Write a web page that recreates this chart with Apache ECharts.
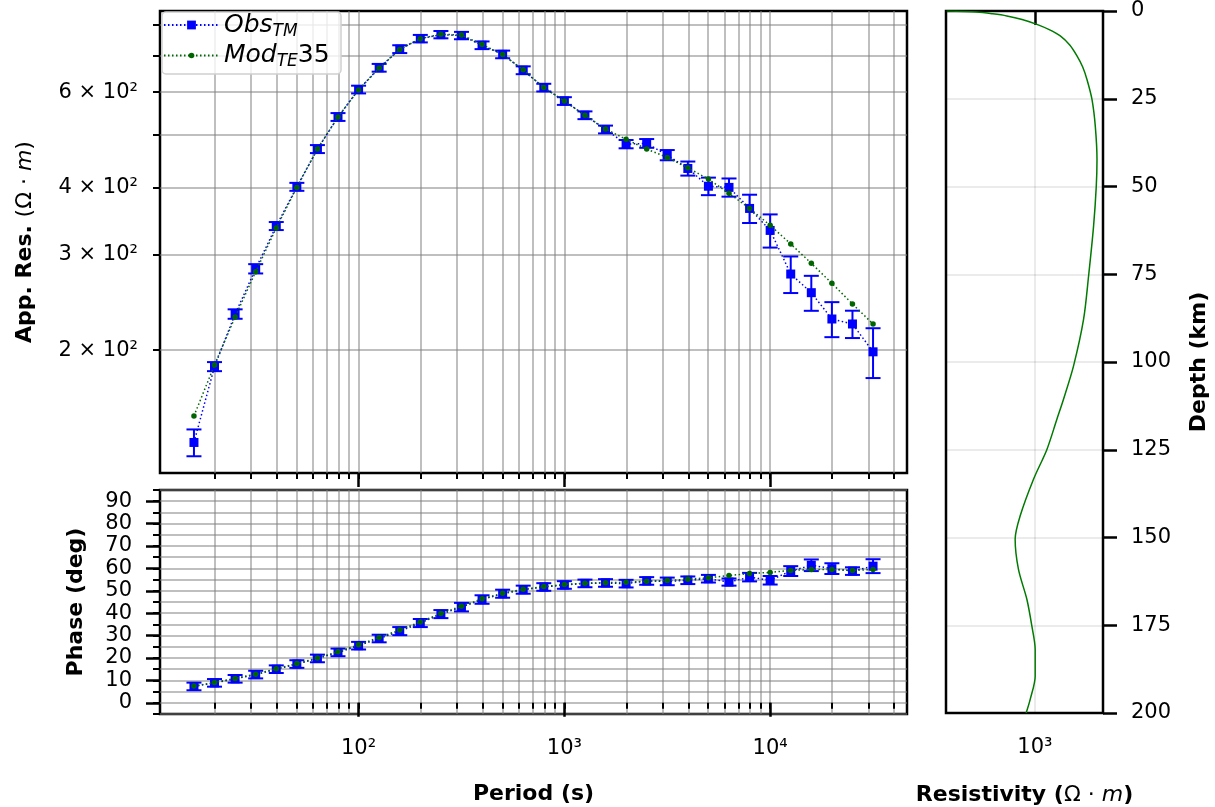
<!DOCTYPE html>
<html>
<head>
<meta charset="utf-8">
<script src="https://cdn.jsdelivr.net/npm/echarts@6/dist/echarts.min.js"></script>
<style>
  body { margin: 0; background: #fff; }
  #mt { width: 1215px; height: 807px; }
</style>
</head>
<body>
<div id="mt"></div>
<script>
// periods (s)
var period = [15.85, 19.95, 25.12, 31.62, 39.81, 50.12, 63.10, 79.43, 100, 125.9, 158.5, 199.5,
  251.2, 316.2, 398.1, 501.2, 631.0, 794.3, 1000, 1259, 1585, 1995, 2512, 3162, 3981, 5012,
  6310, 7943, 10000, 12589, 15849, 19953, 25119, 31623];
// apparent resistivity (ohm m)
var rhoObs = [134.9, 186.4, 233.2, 282.8, 339.3, 401, 471, 540, 607, 666, 721, 754, 767, 764,
  733, 705, 659, 612, 578, 544, 512, 481, 482.5, 459, 433.6, 402, 400, 365.7, 333, 276.5,
  255.4, 228.3, 223.5, 198.5];
var rhoErr = [7.7, 3.6, 4.7, 5.6, 5.8, 6.8, 8, 9, 10, 11, 12, 12, 12, 12, 12, 11.5, 11, 10,
  9.5, 9, 8.5, 8.5, 9, 10, 13, 15, 15.5, 22, 23.5, 21.5, 19, 17, 13, 21];
var rhoMod = [151, 187.7, 230.3, 279.3, 336.4, 400, 471, 540, 606, 665, 720, 754, 768, 766,
  735, 705, 660, 612, 578, 544, 513, 491, 471, 454.5, 434.7, 414.4, 390, 365.7, 340.3, 314.3,
  289.4, 265.8, 243.4, 223.5];
// phase (deg)
var phaObs = [7.3, 8.9, 10.7, 12.6, 15.0, 17.3, 19.8, 22.5, 25.5, 28.7, 32.0, 35.6, 39.6, 42.7,
  46.1, 48.7, 50.5, 51.7, 52.6, 53.3, 53.5, 53.2, 54.4, 54.2, 54.7, 55.4, 53.9, 56.1, 54.7,
  58.8, 61.4, 59.9, 58.8, 61.0];
var phaErr = [1.7, 1.7, 1.7, 1.7, 1.7, 1.7, 1.7, 1.7, 1.7, 1.7, 1.8, 1.8, 1.8, 1.9, 1.9, 1.8,
  1.8, 1.7, 1.7, 1.7, 1.7, 1.7, 1.7, 1.7, 1.7, 1.7, 1.6, 1.9, 1.9, 2.2, 2.6, 2.4, 1.7, 3.1];
var phaMod = [7.5, 9.1, 10.9, 12.8, 15.2, 17.5, 20.0, 22.8, 25.9, 29.2, 32.5, 36.1, 39.9, 43.1,
  46.4, 48.9, 50.7, 51.9, 52.8, 53.4, 53.6, 53.8, 54.3, 54.6, 55.2, 55.8, 56.8, 57.7, 58.2,
  59.1, 59.5, 59.5, 59.1, 59.5];
// 1D model: depth (km) vs resistivity (ohm m)
var depth = [0, 0.3, 0.8, 1.4, 2.4, 3.8, 5.3, 7.1, 9.7, 12.8, 15.9, 19.5, 25.2, 32.8, 42.3, 49.9,
  61.3, 75.5, 87.8, 101.1, 110.6, 116.3, 124.9, 133.4, 143.9, 150.5, 159.1, 167.6, 175.2, 181.9,
  189.5, 196.2, 200];
var resist = [254, 405, 520, 647, 820, 1032, 1250, 1484, 1720, 1924, 2100, 2248, 2430, 2558, 2627,
  2598, 2491, 2305, 2133, 1825, 1561, 1408, 1206, 979, 795, 736, 775, 883, 954, 1005, 1005, 929, 873];

// ticks
var periodMajor = [100, 1000, 10000];
var periodMinor = [20, 30, 40, 50, 60, 70, 80, 90, 100, 200, 300, 400, 500, 600, 700, 800, 900,
  1000, 2000, 3000, 4000, 5000, 6000, 7000, 8000, 9000, 10000, 20000, 30000, 40000];
var rhoTicks = [200, 300, 400, 500, 600, 700, 800];
var rhoLabels = [200, 300, 400, 600];
var phaMajor = [0, 10, 20, 30, 40, 50, 60, 70, 80, 90];
var resTicks = [1000];

var FONT = 'DejaVu Sans';
var lg = Math.log10;
var GRID = { color: 'rgba(128,128,128,0.5)', width: 2 };
var sup = { '2': '\u00b2', '3': '\u00b3', '4': '\u2074' };
function powLabel(v) { return '10' + sup[String(Math.round(v))]; }

var chart = echarts.init(document.getElementById('mt'));

function errBars() {
  return function (params, api) {
    var x = api.value(0);
    var a = api.coord([x, api.value(1)]);
    var b = api.coord([x, api.value(2)]);
    var hw = 7.5;
    var st = { stroke: '#0000ff', lineWidth: 2 };
    return {
      type: 'group', children: [
        { type: 'line', shape: { x1: a[0], y1: a[1], x2: b[0], y2: b[1] }, style: st },
        { type: 'line', shape: { x1: a[0] - hw, y1: a[1], x2: a[0] + hw, y2: a[1] }, style: st },
        { type: 'line', shape: { x1: b[0] - hw, y1: b[1], x2: b[0] + hw, y2: b[1] }, style: st }
      ]
    };
  };
}

var nameRich = {
  b: { fontFamily: FONT, fontSize: 22, fontWeight: 'bold', color: '#000', lineHeight: 26 },
  r: { fontFamily: FONT, fontSize: 22, color: '#000', lineHeight: 26 },
  i: { fontFamily: FONT, fontSize: 22, fontStyle: 'italic', color: '#000', lineHeight: 26 }
};

function xPair(gi, labels) {
  var base = { type: 'value', gridIndex: gi, min: 1.035, max: 4.665, position: 'bottom',
    axisLine: { show: false } };
  var major = Object.assign({}, base, {
    axisTick: { show: true, length: 14, lineStyle: { color: '#000', width: 2.5 },
      customValues: periodMajor.map(lg) },
    axisLabel: labels ? { show: true, margin: 24, customValues: periodMajor.map(lg),
      formatter: powLabel, fontFamily: FONT, fontSize: 21, color: '#000' } : { show: false },
    splitLine: { show: false }
  });
  var minor = Object.assign({}, base, {
    axisTick: { show: true, length: 6, lineStyle: { color: '#000', width: 2 },
      customValues: periodMinor.map(lg) },
    axisLabel: { show: false },
    splitLine: { show: true, lineStyle: GRID }
  });
  if (labels) {
    major.name = 'Period (s)';
    major.nameLocation = 'middle';
    major.nameGap = 69;
    major.nameMoveOverlap = false;
    major.nameTextStyle = { fontFamily: FONT, fontSize: 22, fontWeight: 'bold', color: '#000' };
  }
  return [major, minor];
}

var xs = xPair(0, false).concat(xPair(1, true));
xs.push({
  type: 'value', gridIndex: 2, min: 2.4, max: 3.46, position: 'bottom',
  axisLine: { show: false },
  axisTick: { show: true, length: 14, lineStyle: { color: '#000', width: 2.5 }, customValues: resTicks.map(lg) },
  axisLabel: { margin: 24, customValues: resTicks.map(lg), formatter: powLabel,
    fontFamily: FONT, fontSize: 21, color: '#000' },
  splitLine: { show: true, lineStyle: { color: 'rgba(0,0,0,0.08)', width: 2 } },
  name: '{b|Resistivity (}{r|\u03a9 \u00b7 }{i|m}{b|)}',
  nameLocation: 'middle', nameGap: 69, nameMoveOverlap: false,
  nameTextStyle: { rich: nameRich }
});

var ys = [
  {
    type: 'value', gridIndex: 0, min: 2.0735, max: 2.9285, position: 'left',
    axisLine: { show: false },
    axisTick: { show: true, length: 7, lineStyle: { color: '#000', width: 2 }, customValues: rhoTicks.map(lg) },
    axisLabel: { margin: 22, customValues: rhoLabels.map(lg), fontFamily: FONT, fontSize: 21, color: '#000',
      formatter: function (v) {
        return Math.round(Math.pow(10, v) / 100) + ' \u00d7 10\u00b2';
      } },
    splitLine: { show: true, lineStyle: GRID },
    name: '{b|App. Res. }{r|(\u03a9 \u00b7 }{i|m}{r|)}',
    nameLocation: 'middle', nameRotate: 90, nameGap: 122, nameMoveOverlap: false,
    nameTextStyle: { rich: nameRich }
  },
  {
    type: 'value', gridIndex: 1, min: -5, max: 95, position: 'left',
    axisLine: { show: false },
    axisTick: { show: true, length: 14, lineStyle: { color: '#000', width: 2.5 }, customValues: phaMajor },
    axisLabel: { margin: 28, customValues: phaMajor, fontFamily: FONT, fontSize: 21, color: '#000' },
    splitLine: { show: false },
    name: 'Phase (deg)',
    nameLocation: 'middle', nameRotate: 90, nameGap: 73, nameMoveOverlap: false,
    nameTextStyle: { fontFamily: FONT, fontSize: 22, fontWeight: 'bold', color: '#000' }
  },
  {
    type: 'value', gridIndex: 1, min: -5, max: 95, interval: 5, position: 'left',
    axisLine: { show: false },
    axisTick: { show: true, length: 7, lineStyle: { color: '#000', width: 2 } },
    axisLabel: { show: false },
    splitLine: { show: true, lineStyle: GRID }
  },
  {
    type: 'value', gridIndex: 2, min: 0, max: 200, interval: 25, inverse: true, position: 'right',
    axisLine: { show: false },
    axisTick: { show: true, length: 14, lineStyle: { color: '#000', width: 2.5 } },
    axisLabel: { margin: 28, fontFamily: FONT, fontSize: 21, color: '#000' },
    splitLine: { show: true, lineStyle: { color: 'rgba(0,0,0,0.08)', width: 2 } },
    name: 'Depth (km)',
    nameLocation: 'middle', nameRotate: 90, nameGap: 85, nameMoveOverlap: false,
    nameTextStyle: { fontFamily: FONT, fontSize: 22, fontWeight: 'bold', color: '#000' }
  }
];

var frame = { show: true, borderColor: '#000', borderWidth: 2.5, backgroundColor: 'transparent',
  containLabel: false, outerBoundsMode: 'none' };

var legRich = {
  i: { fontFamily: FONT, fontSize: 25, fontStyle: 'italic', color: '#000', lineHeight: 30 },
  s: { fontFamily: FONT, fontSize: 17, fontStyle: 'italic', color: '#000', lineHeight: 17, verticalAlign: 'bottom' },
  n: { fontFamily: FONT, fontSize: 25, color: '#000', lineHeight: 30 }
};

var dotted = [1.5, 2.5];

option = {
  animation: false,
  backgroundColor: '#fff',
  textStyle: { fontFamily: FONT, fontSize: 21, color: '#000' },
  grid: [
    Object.assign({ left: 160, top: 11, width: 747, height: 462 }, frame),
    Object.assign({ left: 160, top: 490, width: 747, height: 224 }, frame),
    Object.assign({ left: 946, top: 11, width: 157, height: 702 }, frame)
  ],
  graphic: [{
    type: 'rect', z: 3, shape: { x: 162, y: 12, width: 179, height: 62, r: 4 },
    style: { fill: 'rgba(255,255,255,0.8)', stroke: '#d0d0d0', lineWidth: 1.5 }
  }],
  legend: [
    { data: ['Obs'], left: 163, top: 12.5, padding: 0, itemWidth: 55, itemHeight: 11, z: 5,
      formatter: function () { return '{i|Obs}{s|TM}'; }, textStyle: { rich: legRich } },
    { data: ['Mod'], left: 163, top: 43, padding: 0, itemWidth: 55, itemHeight: 7, z: 5,
      formatter: function () { return '{i|Mod}{s|TE}{n|35}'; }, textStyle: { rich: legRich } }
  ],
  xAxis: xs,
  yAxis: ys,
  series: [
    {
      type: 'custom', name: 'rhoErr', xAxisIndex: 0, yAxisIndex: 0, z: 2,
      renderItem: errBars(),
      encode: { x: 0, y: [1, 2] },
      data: period.map(function (p, i) { return [lg(p), lg(rhoObs[i] - rhoErr[i]), lg(rhoObs[i] + rhoErr[i])]; })
    },
    {
      type: 'line', name: 'Obs', xAxisIndex: 0, yAxisIndex: 0, z: 3,
      symbol: 'rect', symbolSize: 9,
      itemStyle: { color: '#0000ff' },
      lineStyle: { color: '#0000ff', width: 1.5, type: dotted },
      data: period.map(function (p, i) { return [lg(p), lg(rhoObs[i])]; })
    },
    {
      type: 'line', name: 'Mod', xAxisIndex: 0, yAxisIndex: 0, z: 4,
      symbol: 'circle', symbolSize: 5.5,
      itemStyle: { color: '#006400' },
      lineStyle: { color: '#006400', width: 1.5, type: dotted },
      data: period.map(function (p, i) { return [lg(p), lg(rhoMod[i])]; })
    },
    {
      type: 'custom', name: 'phaErr', xAxisIndex: 2, yAxisIndex: 1, z: 2,
      renderItem: errBars(),
      encode: { x: 0, y: [1, 2] },
      data: period.map(function (p, i) { return [lg(p), phaObs[i] - phaErr[i], phaObs[i] + phaErr[i]]; })
    },
    {
      type: 'line', name: 'Obs', xAxisIndex: 2, yAxisIndex: 1, z: 3,
      symbol: 'rect', symbolSize: 9,
      itemStyle: { color: '#0000ff' },
      lineStyle: { color: '#0000ff', width: 1.5, type: dotted },
      data: period.map(function (p, i) { return [lg(p), phaObs[i]]; })
    },
    {
      type: 'line', name: 'Mod', xAxisIndex: 2, yAxisIndex: 1, z: 4,
      symbol: 'circle', symbolSize: 5.5,
      itemStyle: { color: '#006400' },
      lineStyle: { color: '#006400', width: 1.5, type: dotted },
      data: period.map(function (p, i) { return [lg(p), phaMod[i]]; })
    },
    {
      type: 'line', name: 'model1d', xAxisIndex: 4, yAxisIndex: 3, z: 3,
      showSymbol: false, smooth: 0.3,
      lineStyle: { color: '#007a00', width: 1.5 },
      data: depth.map(function (d, i) { return [lg(resist[i]), d]; })
    }
  ]
};
chart.setOption(option);
</script>
</body>
</html>
